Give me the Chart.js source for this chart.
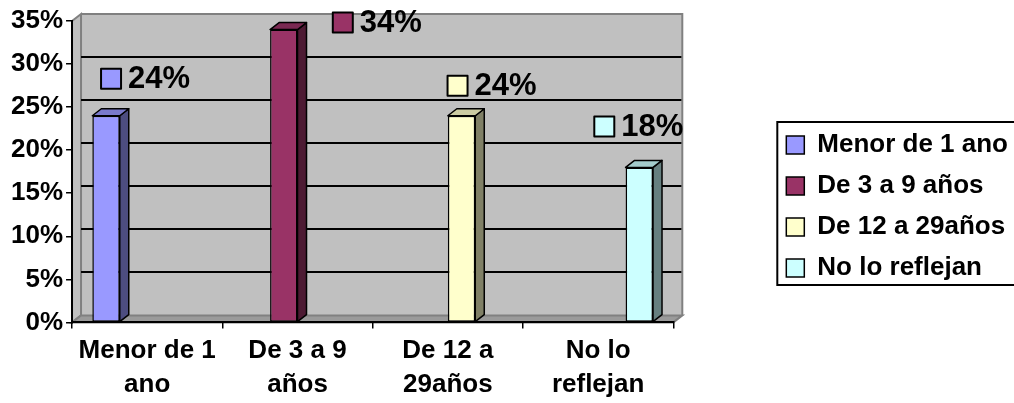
<!DOCTYPE html>
<html>
<head>
<meta charset="utf-8">
<script src="https://cdn.jsdelivr.net/npm/chart.js@4.4.0/dist/chart.umd.min.js"></script>
<style>
  html, body { margin: 0; padding: 0; background: #ffffff; }
  #wrap { width: 1014px; height: 403px; position: relative; }
</style>
</head>
<body>
<div id="wrap"><canvas id="grafico"></canvas></div>
<script>
// Datos del gráfico (porcentajes)
const categorias = [['Menor de 1', 'ano'], ['De 3 a 9', 'años'], ['De 12 a', '29años'], ['No lo', 'reflejan']];
const series = ['Menor de 1 ano', 'De 3 a 9 años', 'De 12 a 29años', 'No lo reflejan'];
const valores = [24, 34, 24, 18];
const ticksY = [0, 5, 10, 15, 20, 25, 30, 35];

// Colores estilo Excel 2003
const colores = ['#9999ff', '#993366', '#ffffcc', '#ccffff'];
const coloresLado = ['#4d4d80', '#4d1a33', '#808066', '#668080'];
const coloresTapa = ['#7a7acc', '#7a2952', '#cccca3', '#a3cccc'];
// Desplazamiento manual de las etiquetas (como quedaron movidas en el original)
const ajusteEtiquetas = [[-5, -37], [49, -7], [-14, -30], [-45, -41]];

const fuente = 'Arial, "Liberation Sans", sans-serif';
const prof = { dx: 9, dy: -7 }; // profundidad 3D
const reservaLeyenda = 94;      // ancho extra que pide la leyenda
const separacion = 98;          // distancia del gráfico a la leyenda

// Un dataset por serie, cada una sólo en su categoría
const datasets = series.map((nombre, i) => ({
    label: nombre,
    data: valores.map((v, j) => (j === i ? v : null)),
    backgroundColor: colores[i],
    borderColor: '#000000',
    borderWidth: 1.5,
    borderSkipped: false
}));

const fondo3D = {
    id: 'fondo3D',
    beforeLayout(chart) {
        // la leyenda reserva además el hueco a su izquierda
        const lg = chart.legend;
        if (lg && !lg._conHueco) {
            const fitOriginal = lg.fit;
            lg.fit = function () {
                fitOriginal.call(this);
                this.width += reservaLeyenda;
            };
            lg._conHueco = true;
        }
    },
    afterLayout(chart) {
        const lg = chart.legend;
        if (!lg) return;
        lg.left = chart.chartArea.right + separacion;
        lg.right = lg.left + lg.width;
        lg.top -= 8;
        lg.bottom -= 8;
    },
    beforeDraw(chart) {
        const { ctx, chartArea: a, scales: { y } } = chart;
        const y0 = y.getPixelForValue(0);
        ctx.save();
        // pared del fondo
        ctx.fillStyle = '#c0c0c0';
        ctx.fillRect(a.left + prof.dx, a.top + prof.dy, a.right - a.left, y0 - a.top);
        // pared izquierda
        ctx.beginPath();
        ctx.moveTo(a.left, y0);
        ctx.lineTo(a.left, a.top);
        ctx.lineTo(a.left + prof.dx, a.top + prof.dy);
        ctx.lineTo(a.left + prof.dx, y0 + prof.dy);
        ctx.closePath();
        ctx.fill();
        ctx.strokeStyle = '#808080';
        ctx.lineWidth = 2;
        ctx.stroke();
        // piso
        ctx.beginPath();
        ctx.moveTo(a.left, y0);
        ctx.lineTo(a.right, y0);
        ctx.lineTo(a.right + prof.dx, y0 + prof.dy);
        ctx.lineTo(a.left + prof.dx, y0 + prof.dy);
        ctx.closePath();
        ctx.fillStyle = '#9a9a9a';
        ctx.fill();
        ctx.strokeStyle = '#808080';
        ctx.stroke();
        // líneas de división en la pared del fondo
        ctx.strokeStyle = '#000000';
        ctx.lineWidth = 2;
        ticksY.slice(1, -1).forEach(t => {
            const py = Math.round(y.getPixelForValue(t) + prof.dy);
            ctx.beginPath();
            ctx.moveTo(a.left + prof.dx, py);
            ctx.lineTo(a.right + prof.dx, py);
            ctx.stroke();
        });
        // borde de la pared del fondo
        ctx.strokeStyle = '#808080';
        ctx.beginPath();
        ctx.moveTo(a.left + prof.dx, a.top + prof.dy);
        ctx.lineTo(a.right + prof.dx, a.top + prof.dy);
        ctx.lineTo(a.right + prof.dx, y0 + prof.dy);
        ctx.stroke();
        ctx.restore();
    },
    afterDatasetsDraw(chart) {
        const { ctx } = chart;
        ctx.save();
        ctx.lineWidth = 1.5;
        ctx.strokeStyle = '#000000';
        ctx.lineJoin = 'round';
        chart.data.datasets.forEach((ds, i) => {
            const bar = chart.getDatasetMeta(i).data[i];
            if (!bar) return;
            const { x, y, base, width } = bar.getProps(['x', 'y', 'base', 'width'], true);
            const l = x - width / 2, r = x + width / 2;
            // lado derecho
            ctx.beginPath();
            ctx.moveTo(r, base);
            ctx.lineTo(r, y);
            ctx.lineTo(r + prof.dx, y + prof.dy);
            ctx.lineTo(r + prof.dx, base + prof.dy);
            ctx.closePath();
            ctx.fillStyle = coloresLado[i];
            ctx.fill();
            ctx.stroke();
            // tapa
            ctx.beginPath();
            ctx.moveTo(l, y);
            ctx.lineTo(l + prof.dx, y + prof.dy);
            ctx.lineTo(r + prof.dx, y + prof.dy);
            ctx.lineTo(r, y);
            ctx.closePath();
            ctx.fillStyle = coloresTapa[i];
            ctx.fill();
            ctx.stroke();
            // etiqueta de datos: cuadrito + porcentaje
            const sx = x + ajusteEtiquetas[i][0];
            const sy = y + ajusteEtiquetas[i][1];
            ctx.fillStyle = colores[i];
            ctx.fillRect(sx, sy - 10, 20, 20);
            ctx.lineWidth = 2;
            ctx.strokeRect(sx, sy - 10, 20, 20);
            ctx.lineWidth = 1.5;
            ctx.fillStyle = '#000000';
            ctx.font = 'bold 31px ' + fuente;
            ctx.textAlign = 'left';
            ctx.textBaseline = 'middle';
            ctx.fillText(valores[i] + '%', sx + 27, sy + 1);
        });
        ctx.restore();
    },
    afterDraw(chart) {
        const lg = chart.legend;
        if (!lg || !lg.legendHitBoxes.length) return;
        const hb = lg.legendHitBoxes;
        const top = hb[0].top - 10;
        const bottom = hb[hb.length - 1].top + hb[hb.length - 1].height + 4;
        const left = hb[0].left - 9;
        const ctx = chart.ctx;
        ctx.save();
        ctx.strokeStyle = '#000000';
        ctx.lineWidth = 2;
        ctx.strokeRect(left, top, chart.width - left + 10, bottom - top);
        ctx.restore();
    }
};

new Chart(document.getElementById('grafico'), {
    type: 'bar',
    data: { labels: categorias, datasets: datasets },
    options: {
        responsive: true,
        maintainAspectRatio: false,
        animation: false,
        categoryPercentage: 0.73,
        barPercentage: 1.0,
        layout: { padding: { top: 21, left: 8, right: 0, bottom: -5 } },
        scales: {
            x: {
                offset: true,
                grid: { offset: true, drawOnChartArea: false, drawTicks: true, tickLength: 6, color: '#000000', lineWidth: 1.5 },
                border: { display: true, color: '#000000', width: 2 },
                ticks: {
                    color: '#000000',
                    padding: 6,
                    maxRotation: 0,
                    font: { family: fuente, size: 26, weight: 'bold', lineHeight: 1.3 }
                }
            },
            y: {
                min: 0,
                max: 35,
                grid: { drawOnChartArea: false, drawTicks: true, tickLength: 6, color: '#000000', lineWidth: 1.5 },
                border: { display: true, color: '#000000', width: 2 },
                ticks: {
                    stepSize: 5,
                    color: '#000000',
                    padding: 3,
                    callback: v => v + '%',
                    font: { family: fuente, size: 26, weight: 'bold' }
                }
            }
        },
        plugins: {
            legend: {
                position: 'right',
                labels: {
                    color: '#000000',
                    boxWidth: 18,
                    boxHeight: 18,
                    padding: 15,
                    font: { family: fuente, size: 26, weight: 'bold' }
                }
            },
            tooltip: { enabled: false }
        }
    },
    plugins: [fondo3D]
});
</script>
</body>
</html>
